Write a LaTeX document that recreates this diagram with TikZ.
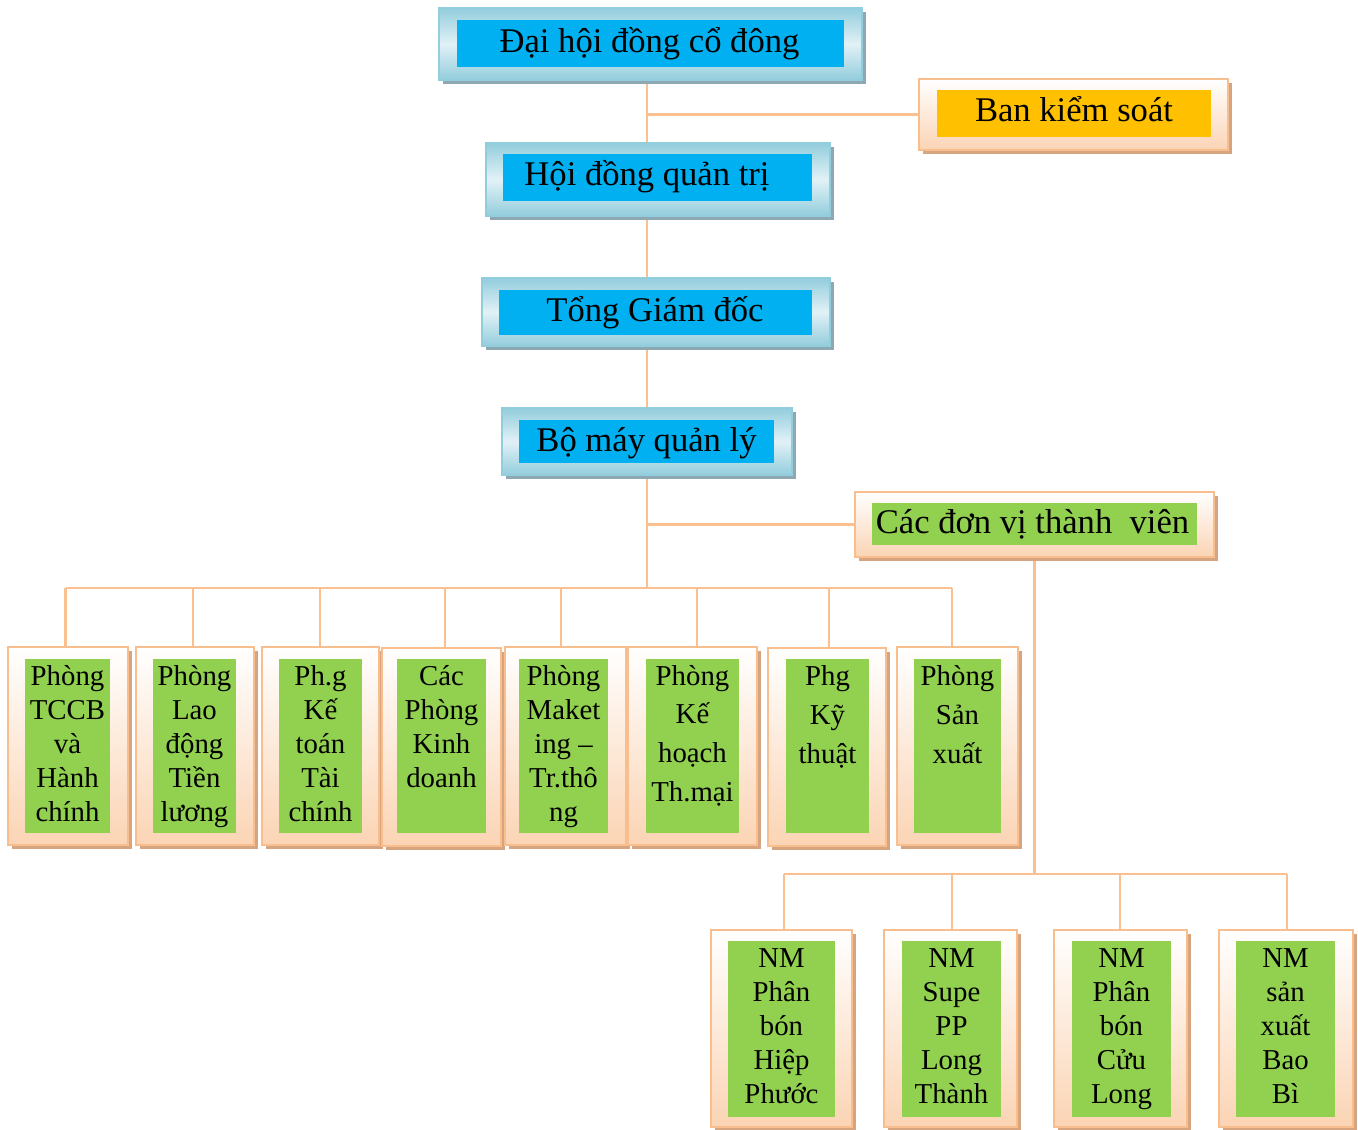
\documentclass[tikz,border=0pt]{standalone}
\usepackage{fontspec}
\setmainfont{Liberation Serif}
\usetikzlibrary{shadows,backgrounds}
\definecolor{linec}{HTML}{FAC090}
\definecolor{peachborder}{HTML}{F9BE8E}
\definecolor{peachbot}{HTML}{FBD4B4}
\definecolor{peachshadow}{HTML}{D6A580}
\definecolor{bluefill}{HTML}{00B0F0}
\definecolor{blueborder}{HTML}{92CDDC}
\definecolor{bluedark}{HTML}{93CDDD}
\definecolor{bluelight}{HTML}{E1F1F6}
\definecolor{blueshadow}{HTML}{8DA8B2}
\definecolor{orangefill}{HTML}{FFC000}
\definecolor{greenfill}{HTML}{92D050}
\newcommand\lines[2]{\vtop{\baselineskip=#1\relax\lineskiplimit=-100pt\relax\let\\\cr\halign{\hfil##\hfil\cr#2\cr}}}
\begin{document}
\begin{tikzpicture}[x=1pt,y=-1pt,
  conn/.style={draw=linec, line width=2.5pt},
  peachouter/.style={draw=peachborder, line width=2pt, top color=white, bottom color=peachbot,
    general shadow={fill=peachshadow, shadow xshift=4pt, shadow yshift=-4pt}, inner sep=0pt},
  blueouter/.style={draw=blueborder, line width=1.5pt, shading angle=-45, top color=bluedark,
    bottom color=bluedark, middle color=bluelight,
    general shadow={fill=blueshadow, shadow xshift=4pt, shadow yshift=-4pt}, inner sep=0pt},
  bluein/.style={fill=bluefill, inner sep=0pt},
  orangein/.style={fill=orangefill, inner sep=0pt},
  greenin/.style={fill=greenfill, inner sep=0pt},
  bigtxt/.style={font=\fontsize{34.6}{40}\selectfont, inner sep=0pt, anchor=base},
  smalltxt/.style={font=\fontsize{28.8}{34}\selectfont, inner sep=0pt, anchor=base},
]
\useasboundingbox (0,0) rectangle (1358,1130);

% ---------- top chain ----------
\node[blueouter, minimum width=423, minimum height=72] (dhcd) at (650.5,44) {};
\node[bluein, minimum width=387, minimum height=47] (dhcd-in) at (650.5,43.5) {};
\node[bigtxt] (dhcd-t) at (649.5,52) {Đại hội đồng cổ đông};

\node[peachouter, minimum width=309, minimum height=71] (bks) at (1073.5,114.5) {};
\node[orangein, minimum width=274, minimum height=47] (bks-in) at (1074,113.5) {};
\node[bigtxt] (bks-t) at (1074,121.7) {Ban kiểm soát};

\node[blueouter, minimum width=344, minimum height=73] (hdqt) at (658,179.5) {};
\node[bluein, minimum width=309, minimum height=47] (hdqt-in) at (657.5,177.5) {};
\node[bigtxt] (hdqt-t) at (647,185) {Hội đồng quản trị};

\node[blueouter, minimum width=348, minimum height=68] (tgd) at (656,312) {};
\node[bluein, minimum width=313, minimum height=45] (tgd-in) at (655.5,312.5) {};
\node[bigtxt] (tgd-t) at (655,321.7) {Tổng Giám đốc};

\node[blueouter, minimum width=290, minimum height=67] (bmql) at (647,441.5) {};
\node[bluein, minimum width=255, minimum height=43] (bmql-in) at (646.5,441.5) {};
\node[bigtxt] (bmql-t) at (646.5,451.7) {Bộ máy quản lý};

\node[peachouter, minimum width=359, minimum height=65] (dvtv) at (1034.5,524.5) {};
\node[greenin, minimum width=325, minimum height=42] (dvtv-in) at (1034.5,524) {};
\node[bigtxt] (dvtv-t) at (1032.5,533) {Các đơn vị thành\ \ viên};

% ---------- departments ----------
\node[peachouter, minimum width=120, minimum height=198] (p1) at (67.75,746) {};
\node[greenin, minimum width=85, minimum height=174] (p1-in) at (67.5,746) {};
\node[smalltxt] (p1-t) at (67.5,685) {\lines{34pt}{Phòng\\TCCB\\và\\Hành\\chính}};

\node[peachouter, minimum width=118, minimum height=198] (p2) at (195,746) {};
\node[greenin, minimum width=83, minimum height=174] (p2-in) at (194.5,746) {};
\node[smalltxt] (p2-t) at (194.5,685) {\lines{34pt}{Phòng\\Lao\\động\\Tiền\\lương}};

\node[peachouter, minimum width=117, minimum height=198] (p3) at (320.5,746) {};
\node[greenin, minimum width=83, minimum height=174] (p3-in) at (320.5,746) {};
\node[smalltxt] (p3-t) at (320.5,685) {\lines{34pt}{Ph.g\\Kế\\toán\\Tài\\chính}};

\node[peachouter, minimum width=119, minimum height=198] (p4) at (441.5,747) {};
\node[greenin, minimum width=89, minimum height=174] (p4-in) at (441.5,746) {};
\node[smalltxt] (p4-t) at (441.5,685) {\lines{34pt}{Các\\Phòng\\Kinh\\doanh}};

\node[peachouter, minimum width=121, minimum height=198] (p5) at (565.5,746) {};
\node[greenin, minimum width=89, minimum height=174] (p5-in) at (563.5,746) {};
\node[smalltxt] (p5-t) at (563.5,685) {\lines{34pt}{Phòng\\Maket\\ing –\\Tr.thô\\ng}};

\node[peachouter, minimum width=129, minimum height=198] (p6) at (692.5,746) {};
\node[greenin, minimum width=93, minimum height=174] (p6-in) at (692.5,746) {};
\node[smalltxt] (p6-t) at (692.5,685) {\lines{38.8pt}{Phòng\\Kế\\hoạch\\Th.mại}};

\node[peachouter, minimum width=118, minimum height=198] (p7) at (827,747) {};
\node[greenin, minimum width=83, minimum height=174] (p7-in) at (827.5,746) {};
\node[smalltxt] (p7-t) at (827.5,685) {\lines{39pt}{Phg\\Kỹ\\thuật}};

\node[peachouter, minimum width=121, minimum height=198] (p8) at (957.5,746) {};
\node[greenin, minimum width=87, minimum height=174] (p8-in) at (957.5,746) {};
\node[smalltxt] (p8-t) at (957.5,685) {\lines{39pt}{Phòng\\Sản\\xuất}};

% ---------- member plants ----------
\node[peachouter, minimum width=141, minimum height=197] (n1) at (781.5,1028.5) {};
\node[greenin, minimum width=107, minimum height=176] (n1-in) at (781.5,1029) {};
\node[smalltxt] (n1-t) at (781.5,967) {\lines{34pt}{NM\\Phân\\bón\\Hiệp\\Phước}};

\node[peachouter, minimum width=133, minimum height=197] (n2) at (950.5,1028.5) {};
\node[greenin, minimum width=99, minimum height=176] (n2-in) at (951.5,1029) {};
\node[smalltxt] (n2-t) at (951.5,967) {\lines{34pt}{NM\\Supe\\PP\\Long\\Thành}};

\node[peachouter, minimum width=133, minimum height=197] (n3) at (1120.5,1028.5) {};
\node[greenin, minimum width=99, minimum height=176] (n3-in) at (1121.5,1029) {};
\node[smalltxt] (n3-t) at (1121.5,967) {\lines{34pt}{NM\\Phân\\bón\\Cửu\\Long}};

\node[peachouter, minimum width=134, minimum height=197] (n4) at (1286,1028.5) {};
\node[greenin, minimum width=99, minimum height=176] (n4-in) at (1285.5,1029) {};
\node[smalltxt] (n4-t) at (1285.5,967) {\lines{34pt}{NM\\sản\\xuất\\Bao\\Bì}};

% ---------- connectors ----------
\coordinate (busA) at (0,588);
\coordinate (busB) at (0,874);
\coordinate (d1) at (65.7,588);
\coordinate (d2) at (193,588);
\coordinate (d3) at (320,588);
\coordinate (d4) at (445,588);
\coordinate (d5) at (561,588);
\coordinate (d6) at (697,588);
\coordinate (d7) at (829,588);
\coordinate (d8) at (952,588);
\coordinate (e1) at (784,874);
\coordinate (e2) at (952,874);
\coordinate (e3) at (1120,874);
\coordinate (e4) at (1287,874);
\begin{pgfonlayer}{background}
\draw[conn] (dhcd.south -| bmql.center) -- (hdqt.north -| bmql.center);
\draw[conn] (bmql.center |- bks.west) -- (bks.west);
\draw[conn] (hdqt.south -| bmql.center) -- (tgd.north -| bmql.center);
\draw[conn] (tgd.south -| bmql.center) -- (bmql.north);
\draw[conn] (bmql.south) -- (bmql.south |- busA);
\draw[conn] (bmql.center |- dvtv.west) -- (dvtv.west);
\draw[conn] (d1) -- (d8);
\foreach \i in {1,...,8} {\draw[conn] (d\i) -- (d\i |- p\i.north);}
\draw[conn] (dvtv.south) -- (dvtv.south |- busB);
\draw[conn] (e1) -- (e4);
\foreach \i in {1,...,4} {\draw[conn] (e\i) -- (e\i |- n\i.north);}
\end{pgfonlayer}
\end{tikzpicture}
\end{document}
